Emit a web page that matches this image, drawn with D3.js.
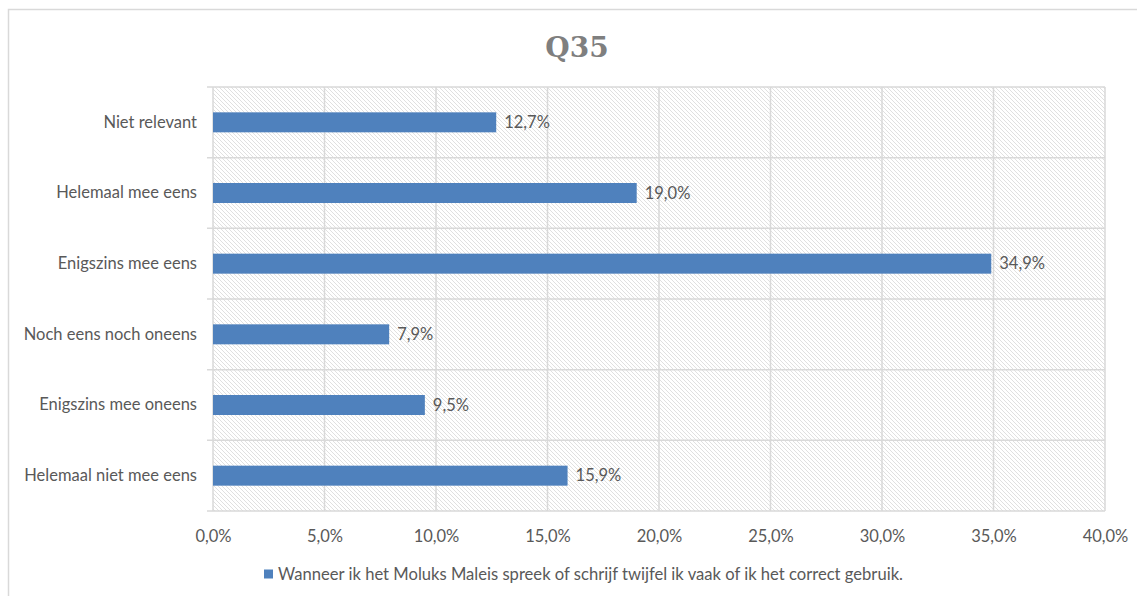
<!DOCTYPE html>
<html>
<head>
<meta charset="utf-8">
<script src="https://cdn.jsdelivr.net/npm/d3@7"></script>
<style>
  body { margin: 0; background: #fff; }
  svg { display: block; }
</style>
</head>
<body>
<div id="chart"></div>
<script>
var categories = ["Niet relevant", "Helemaal mee eens", "Enigszins mee eens", "Noch eens noch oneens", "Enigszins mee oneens", "Helemaal niet mee eens"]
var values = [12.7, 19.0, 34.9, 7.9, 9.5, 15.9]
var xTicks = [0, 5, 10, 15, 20, 25, 30, 35, 40]
var seriesName = "Wanneer ik het Moluks Maleis spreek of schrijf twijfel ik vaak of ik het correct gebruik."
var title = "Q35"

var width = 1137, height = 596
var margin = { top: 87, right: 32, bottom: 85, left: 213 }
var fmt = v => v.toFixed(1).replace(".", ",") + "%"
var grid = "#d9d9d9"
var textCol = "#595959"
var font = "Lato, 'Open Sans', sans-serif"

var svg = d3.select("#chart").append("svg")
    .attr("width", width)
    .attr("height", height)

// hatch pattern for plot area
var defs = svg.append("defs")
defs.append("pattern")
    .attr("id", "hatch")
    .attr("patternUnits", "userSpaceOnUse")
    .attr("width", 4).attr("height", 4)
    .call(p => p.append("rect").attr("width", 4).attr("height", 4).attr("fill", "#fff"))
    .call(p => p.append("path")
        .attr("d", "M-1,-1 L5,5 M-1,3 L1,5 M3,-1 L5,1")
        .attr("stroke", "#dcdcdc").attr("stroke-width", 0.9))

// chart border
svg.append("rect")
    .attr("x", 8.5).attr("y", 9.5)
    .attr("width", width + 10).attr("height", height + 10)
    .attr("fill", "none").attr("stroke", grid).attr("stroke-width", 1.5)

var x = d3.scaleLinear()
    .domain([0, 40])
    .range([margin.left, width - margin.right])

var y = d3.scaleBand()
    .domain(categories)
    .range([margin.top, height - margin.bottom])

svg.append("rect")
    .attr("x", x(0)).attr("y", margin.top)
    .attr("width", x(40) - x(0)).attr("height", height - margin.bottom - margin.top)
    .attr("fill", "url(#hatch)")

// vertical gridlines
svg.append("g")
    .selectAll("line")
    .data(xTicks)
    .enter().append("line")
    .attr("x1", d => x(d)).attr("x2", d => x(d))
    .attr("y1", margin.top).attr("y2", height - margin.bottom)
    .attr("stroke", grid).attr("stroke-width", 1.5)

// category separators (incl. outer ticks)
var seps = categories.map(c => y(c)).concat([y.range()[1]])
svg.append("g")
    .selectAll("line")
    .data(seps)
    .enter().append("line")
    .attr("x1", x(0) - 6).attr("x2", x(40))
    .attr("y1", d => d).attr("y2", d => d)
    .attr("stroke", grid).attr("stroke-width", 1.5)

// x axis labels
var xAxis = g => g
    .attr("transform", `translate(0, ${height - margin.bottom})`)
    .call(d3.axisBottom(x).tickValues(xTicks).tickFormat(d => fmt(d)).tickSize(0).tickPadding(19))
    .call(g => g.select(".domain").remove())
    .call(g => g.selectAll("text").attr("fill", textCol).style("font", "16.5px " + font))

// y axis labels
var yAxis = g => g
    .attr("transform", `translate(${margin.left}, 0)`)
    .call(d3.axisLeft(y).tickSize(0).tickPadding(16))
    .call(g => g.select(".domain").remove())
    .call(g => g.selectAll("text").attr("fill", textCol).style("font", "16.5px " + font))

svg.append("g").call(xAxis)
svg.append("g").call(yAxis)

var barH = 20
svg.append("g")
    .selectAll("rect")
    .data(values)
    .enter().append("rect")
    .attr("x", x(0))
    .attr("y", (d, i) => y(categories[i]) + y.bandwidth() / 2 - barH / 2)
    .attr("width", d => x(d) - x(0))
    .attr("height", barH)
    .attr("fill", "#4f81bd")

svg.append("g")
    .selectAll("text")
    .data(values)
    .enter().append("text")
    .attr("x", d => x(d) + 8)
    .attr("y", (d, i) => y(categories[i]) + y.bandwidth() / 2)
    .attr("dy", ".35em")
    .attr("fill", textCol)
    .style("font", "16.5px " + font)
    .text(d => fmt(d))

svg.append("text")
    .attr("x", 577).attr("y", 57)
    .attr("text-anchor", "middle")
    .attr("fill", "#7f7f7f")
    .style("font", "bold 28px 'DejaVu Serif', serif")
    .text(title)

// legend
var leg = svg.append("g").attr("transform", "translate(264, 574)")
leg.append("rect")
    .attr("x", 0).attr("y", -4.5)
    .attr("width", 9).attr("height", 9)
    .attr("fill", "#4f81bd")
leg.append("text")
    .attr("x", 14).attr("dy", ".35em")
    .attr("fill", textCol)
    .attr("textLength", 625)
    .attr("lengthAdjust", "spacingAndGlyphs")
    .style("font", "16.5px " + font)
    .text(seriesName)
</script>
</body>
</html>
